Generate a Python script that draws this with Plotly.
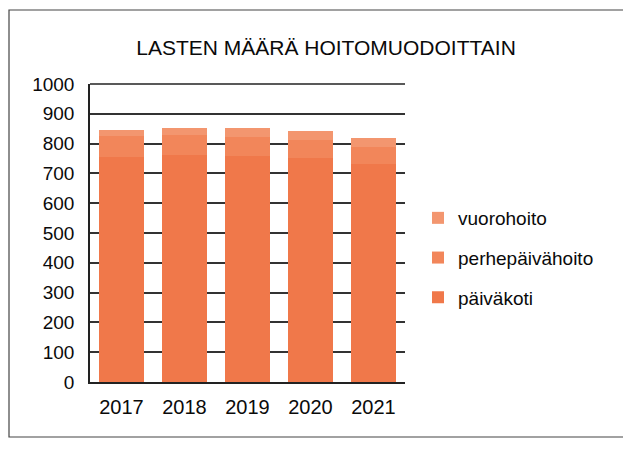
import plotly.graph_objects as go

years = ["2017", "2018", "2019", "2020", "2021"]
paivakoti = [755, 762, 760, 753, 730]
perhepaivahoito = [70, 68, 62, 60, 58]
vuorohoito = [22, 24, 30, 30, 32]
y_ticks = list(range(0, 1001, 100))

# page body has an 8px margin, so the figure is 8px smaller and positions shifted
OFF = 8
W, H = 631 - OFF, 450 - OFF
FONT = "Liberation Sans, Arial, sans-serif"


def px(x):
    return (x - OFF) / W


def py(y):
    return 1 - (y - OFF) / H


fig = go.Figure()
fig.add_trace(go.Bar(name="päiväkoti", x=years, y=paivakoti,
                     marker=dict(color="#F0784A", line=dict(width=0)),
                     legendgroup="a", legendrank=3))
fig.add_trace(go.Bar(name="perhepäivähoito", x=years, y=perhepaivahoito,
                     marker=dict(color="#F2865A", line=dict(width=0)),
                     legendgroup="b", legendrank=2))
fig.add_trace(go.Bar(name="vuorohoito", x=years, y=vuorohoito,
                     marker=dict(color="#F3966F", line=dict(width=0)),
                     legendgroup="c", legendrank=1))

fig.update_layout(
    width=W, height=H,
    margin=dict(l=0, r=0, t=0, b=0),
    paper_bgcolor="white", plot_bgcolor="white",
    barmode="stack", bargap=0.29,
    font=dict(family=FONT, color="#0a0a0a"),
    title=dict(text="LASTEN MÄÄRÄ HOITOMUODOITTAIN", x=px(326), xanchor="center",
               y=py(48), yanchor="middle",
               font=dict(size=21, family=FONT, color="#0a0a0a")),
    xaxis=dict(domain=[px(90), px(405)], showline=True, linecolor="#222222", linewidth=1.5,
               showgrid=False, tickfont=dict(size=20), ticklabelstandoff=6,
               automargin=False, fixedrange=True),
    yaxis=dict(domain=[py(382), py(84)], range=[0, 1000], tickvals=y_ticks,
               showline=True, linecolor="#222222", linewidth=1.5,
               showgrid=True, gridcolor="#333333", gridwidth=1.5,
               tickfont=dict(size=19), ticklabelstandoff=10,
               automargin=False, fixedrange=True, zeroline=False),
    legend=dict(x=px(418), y=py(199), xanchor="left", yanchor="top",
                traceorder="grouped", tracegroupgap=12,
                font=dict(size=19, family=FONT, color="#0a0a0a"),
                itemwidth=30, bgcolor="rgba(0,0,0,0)"),
    shapes=[dict(type="rect", xref="paper", yref="paper",
                 x0=px(9), x1=px(624), y0=py(437), y1=py(10),
                 line=dict(color="#444444", width=1.2)),
            dict(type="line", xref="paper", yref="paper",
                 x0=px(90), x1=px(405), y0=py(84), y1=py(84),
                 line=dict(color="#222222", width=1.5))],
)

fig.write_html("out.html")
